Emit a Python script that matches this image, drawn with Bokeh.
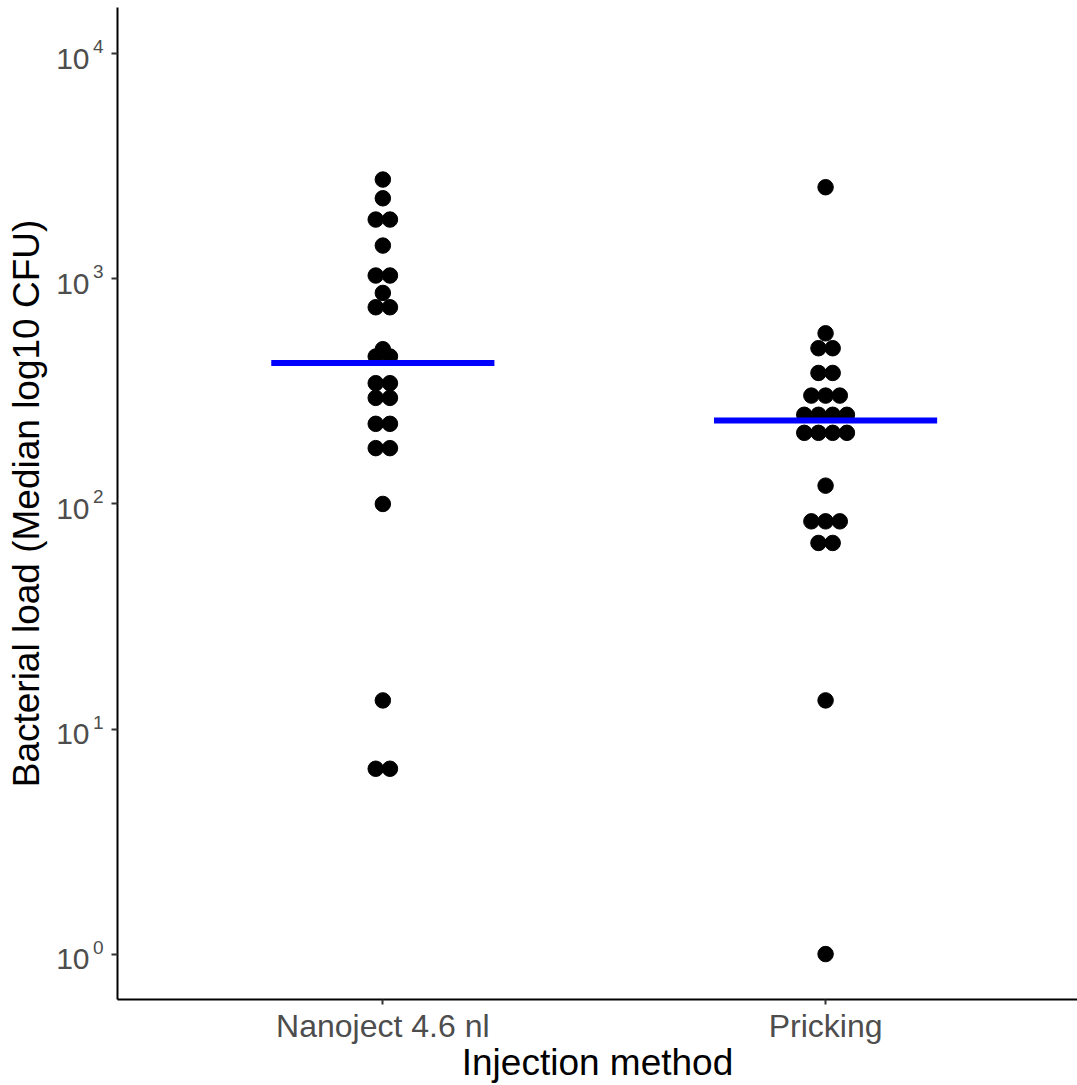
from collections import Counter

from bokeh.plotting import figure
from bokeh.models import Range1d, FixedTicker, LogAxis, LogScale
from bokeh.embed import file_html
from bokeh.resources import INLINE

# ---- data -------------------------------------------------------------
methods = ["Nanoject 4.6 nl", "Pricking"]

nanoject_cfu = [2763, 2281, 1835, 1835, 1406, 1035, 1035, 866, 748, 748,
                487, 452, 452, 344, 344, 296, 296, 227, 227, 177, 177,
                100, 13.4, 6.66, 6.66]
pricking_cfu = [2554, 573, 492, 492, 382, 382, 303, 303, 303,
                249, 249, 249, 249, 207, 207, 207, 207,
                120.6, 83.7, 83.7, 83.7, 67.1, 67.1, 13.4, 1.0]

median_cfu = [422.5, 234.6]

y_tick_exponents = [0, 1, 2, 3, 4]

# ---- layout constants ---------------------------------------------------
X_START, X_END = 0.4007, 2.569
LOG_MIN, LOG_MAX = -0.2018, 4.2058
PX_PER_DECADE = 992 / (LOG_MAX - LOG_MIN)
DOT_STEP = 0.0321          # horizontal spacing between stacked dots (data units)
TICK_GREY = "#4D4D4D"
FONT = "Liberation Sans"

p = figure(width=1077, height=1085, y_axis_type="log",
           x_range=Range1d(X_START, X_END),
           y_range=Range1d(10 ** LOG_MIN, 10 ** LOG_MAX),
           output_backend="svg", toolbar_location=None,
           min_border_left=117, min_border_right=0,
           min_border_top=7, min_border_bottom=86)

p.background_fill_color = "white"
p.border_fill_color = "white"
p.outline_line_color = None
p.xgrid.visible = False
p.ygrid.visible = False

# ---- stacked dots (centred dot-plot style) ---------------------------------
xs, ys = [], []
for pos, values in enumerate([nanoject_cfu, pricking_cfu], start=1):
    counts = Counter(values)
    for v, n in counts.items():
        for i in range(n):
            xs.append(pos + (i - (n - 1) / 2) * DOT_STEP)
            ys.append(v)

p.scatter(xs, ys, size=15.5, color="black", line_color="black")

# ---- median bars ---------------------------------------------------------
positions = [1, 2]
p.segment(x0=[x - 0.252 for x in positions], x1=[x + 0.252 for x in positions],
          y0=median_cfu, y1=median_cfu, line_color="#0000FF", line_width=6)

# ---- x axis --------------------------------------------------------------
xa = p.xaxis[0]
xa.ticker = FixedTicker(ticks=positions)
xa.major_label_overrides = {pos: name for pos, name in zip(positions, methods)}
xa.major_label_text_font = FONT
xa.major_label_text_font_size = "32px"
xa.major_label_text_color = TICK_GREY
xa.major_label_standoff = 3
xa.minor_tick_line_color = None
xa.major_tick_out = 5
xa.major_tick_in = 0
xa.axis_line_width = 2
xa.major_tick_line_width = 2
xa.axis_line_color = "black"
xa.major_tick_line_color = "#333333"
xa.axis_label = "Injection method"
xa.axis_label_text_font = FONT
xa.axis_label_text_font_size = "37px"
xa.axis_label_text_font_style = "normal"
xa.axis_label_text_color = "black"
xa.axis_label_standoff = -5

# ---- y axis: line and ticks ---------------------------------------------
tick_values = [10 ** e for e in y_tick_exponents]
ya = p.yaxis[0]
ya.ticker = FixedTicker(ticks=tick_values)
ya.major_label_text_font_size = "2px"
ya.major_label_text_alpha = 0.0
ya.major_label_standoff = 0
ya.minor_tick_line_color = None
ya.major_tick_out = 6
ya.major_tick_in = 0
ya.axis_line_width = 2
ya.major_tick_line_width = 2
ya.axis_line_color = "black"
ya.major_tick_line_color = "#333333"

# ---- y tick labels: base "10" and raised exponent ------------------------
# each label row uses its own copy of the log range, nudged a few pixels
# so that the exponent sits above the tick and the base slightly below it
sup_shift = 7.0 / PX_PER_DECADE
base_shift = 4.7 / PX_PER_DECADE
p.extra_y_ranges = {
    "sup": Range1d(10 ** (LOG_MIN - sup_shift), 10 ** (LOG_MAX - sup_shift)),
    "base": Range1d(10 ** (LOG_MIN + base_shift), 10 ** (LOG_MAX + base_shift)),
}
p.extra_y_scales = {"sup": LogScale(), "base": LogScale()}

sup_axis = LogAxis(y_range_name="sup", ticker=FixedTicker(ticks=tick_values))
sup_axis.major_label_overrides = {v: str(e) for v, e in zip(tick_values, y_tick_exponents)}
base_axis = LogAxis(y_range_name="base", ticker=FixedTicker(ticks=tick_values))
base_axis.major_label_overrides = {v: "10" for v in tick_values}

for ax, size, standoff in [(sup_axis, "19px", 8), (base_axis, "30px", 0)]:
    ax.axis_line_color = None
    ax.major_tick_line_color = None
    ax.minor_tick_line_color = None
    ax.major_tick_out = 0
    ax.major_tick_in = 0
    ax.major_label_standoff = standoff
    ax.major_label_text_font = FONT
    ax.major_label_text_font_size = size
    ax.major_label_text_color = TICK_GREY

base_axis.axis_label = "Bacterial load (Median log10 CFU)"
base_axis.axis_label_text_font = FONT
base_axis.axis_label_text_font_size = "37px"
base_axis.axis_label_text_font_style = "normal"
base_axis.axis_label_text_color = "black"
base_axis.axis_label_standoff = 6

p.add_layout(sup_axis, "left")
p.add_layout(base_axis, "left")

open("out.html", "w").write(file_html(p, INLINE))
